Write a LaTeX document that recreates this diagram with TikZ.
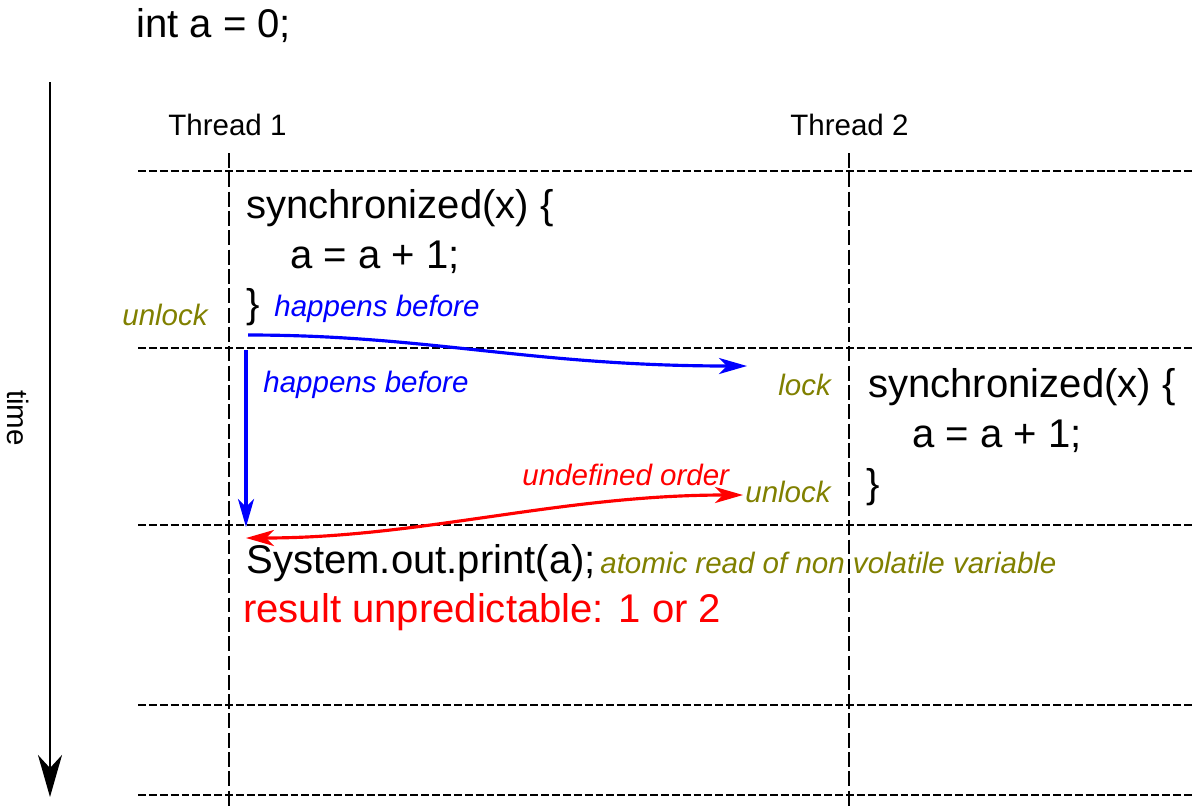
\documentclass[tikz,border=0pt]{standalone}
\usepackage{fontspec}
\setmainfont{Liberation Sans}
\usetikzlibrary{arrows.meta}
\definecolor{olivetxt}{RGB}{128,128,0}

\begin{document}
\begin{tikzpicture}[x=0.02cm,y=-0.02cm]
\tikzstyle{every node}=[inner sep=0pt,anchor=base west]
\tikzstyle{code}=[font=\fontsize{22.8}{27}\selectfont]
\tikzstyle{small}=[font=\fontsize{16.8}{20}\selectfont]
\tikzstyle{note}=[font=\fontsize{16.8}{20}\selectfont\itshape]
\tikzstyle{grid}=[line width=1.5pt,dash pattern=on 4.5pt off 1.7pt]
\tikzstyle{lifeline}=[line width=1.5pt,dash pattern=on 8.5pt off 2.5pt]
\tikzstyle{hb}=[blue,line width=1.8pt,-{Stealth[length=0.56cm,width=0.32cm,inset=0.16cm]}]
\useasboundingbox (0,0) rectangle (1193,809);
\node[code] (init) at (136,37) {int a = 0;};
\node[small] (th1) at (168,135) {Thread 1};
\node[small] (th2) at (790,135) {Thread 2};
\node[small,rotate=-90,anchor=center] (time) at (18,418) {time};
\coordinate (t0) at (50,82);
\coordinate (t1) at (50,797);
\draw[line width=1.5pt,-{Stealth[length=0.84cm,width=0.48cm,inset=0.26cm]}] (t0) -- (t1);
\draw[grid] (138,171) -- (1193,171);
\draw[grid,line width=0.9pt] (138,348) -- (1193,348);
\draw[grid] (138,525) -- (1193,525);
\draw[grid] (138,705) -- (1193,705);
\draw[grid] (138,795) -- (1193,795);
\draw[lifeline] (229,153) -- (229,809);
\draw[lifeline] (849,153) -- (849,809);
\node[code] (s1) at (246,218) {synchronized(x) \{};
\node[code] (a1) at (290,268) {a = a + 1;};
\node[code] (c1) at (246,317) {\}};
\node[note,olivetxt] (ul1) at (122,325) {unlock};
\node[note,blue] (hb1) at (274,316) {happens before};
\node[note,blue] (hb2) at (263,392) {happens before};
\node[note,olivetxt] (lk) at (778,395) {lock};
\node[code] (s2) at (868,397) {synchronized(x) \{};
\node[code] (a2) at (912,447) {a = a + 1;};
\node[code] (c2) at (866,497) {\}};
\node[note,red] (ud) at (522,485) {undefined order};
\node[note,olivetxt] (ul2) at (745,502) {unlock};
\node[code] (pr) at (246,573) {System.out.print(a);};
\node[note,olivetxt] (at) at (600,573) {atomic read of non volatile variable};
\node[code,red] (res) at (243,622) {result unpredictable: 1 or 2};
\coordinate (hbA) at (248,335);
\coordinate (hbB) at (747,366);
\coordinate (hbC) at (246,350);
\coordinate (hbD) at (246,527);
\coordinate (udA) at (743,495);
\coordinate (udB) at (246,538);
\draw[hb] (hbA) .. controls (430,335) and (530,366) .. (hbB);
\draw[hb] (hbC) -- (hbD);
\draw[red,line width=1.8pt,{Stealth[length=0.56cm,width=0.32cm,inset=0.16cm]}-{Stealth[length=0.56cm,width=0.32cm,inset=0.16cm]}] (udA) .. controls (560,495) and (420,538) .. (udB);
\end{tikzpicture}
\end{document}
